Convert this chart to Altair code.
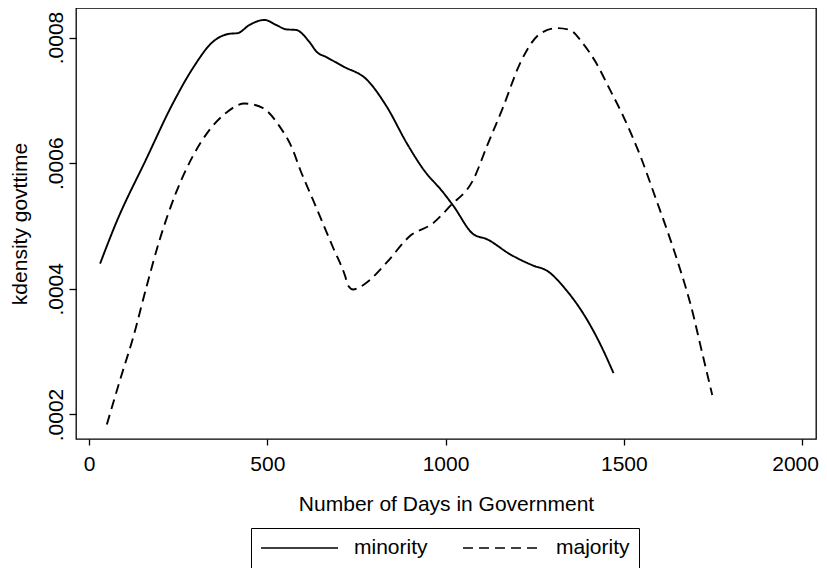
import altair as alt
import pandas as pd

# minority (solid) kernel density
min_x = [31, 76, 160, 235, 291, 347, 394, 417, 450, 492, 525, 553, 581, 618, 639, 665,
         713, 779, 835, 891, 938, 994, 1022, 1078, 1116, 1181, 1246, 1284, 1340, 1387,
         1433, 1471]
min_y = [0.000440, 0.000505, 0.000606, 0.000695, 0.000751, 0.000793, 0.000806, 0.000807,
         0.000820, 0.000828, 0.000820, 0.000813, 0.000812, 0.000793, 0.000777, 0.000769,
         0.000754, 0.000733, 0.000690, 0.000632, 0.000590, 0.000553, 0.000532, 0.000487,
         0.000479, 0.000455, 0.000437, 0.000429, 0.000397, 0.000360, 0.000313, 0.000266]

# majority (dashed) kernel density
maj_x = [50, 87, 124, 162, 197, 244, 291, 338, 384, 436, 487, 534, 571, 592, 618, 637,
         665, 685, 718, 727, 741, 760, 779, 835, 900, 966, 1013, 1078, 1116, 1162, 1209,
         1265, 1313, 1349, 1386, 1423, 1461, 1494, 1546, 1592, 1621, 1649, 1695, 1714,
         1748]
maj_y = [0.000184, 0.000255, 0.000323, 0.000405, 0.000476, 0.000553, 0.000611, 0.000653,
         0.000680, 0.000695, 0.000688, 0.000659, 0.000622, 0.000590, 0.000555, 0.000530,
         0.000492, 0.000465, 0.000421, 0.000405, 0.000399, 0.000403, 0.000410, 0.000442,
         0.000484, 0.000505, 0.000532, 0.000574, 0.000627, 0.000690, 0.000759, 0.000806,
         0.000815, 0.000812, 0.000790, 0.000759, 0.000717, 0.000680, 0.000612, 0.000540,
         0.000494, 0.000447, 0.000358, 0.000312, 0.000231]

groups = ["minority", "majority"]
x_ticks = [0, 500, 1000, 1500, 2000]
y_ticks = [0.0002, 0.0004, 0.0006, 0.0008]

rows = []
for i, (x, y) in enumerate(zip(min_x, min_y)):
    rows.append({"days": x, "density": y, "group": groups[0], "order": i})
for i, (x, y) in enumerate(zip(maj_x, maj_y)):
    rows.append({"days": x, "density": y, "group": groups[1], "order": i})
df = pd.DataFrame(rows)

FONT = "Liberation Sans"
FS = 21

chart = alt.Chart(df).mark_line(
    strokeWidth=1.9, color="black", interpolate="monotone"
).encode(
    x=alt.X(
        "days:Q",
        scale=alt.Scale(domain=[-36.5, 2039], nice=False, zero=False),
        axis=alt.Axis(
            values=x_ticks, format="d", title="Number of Days in Government",
            tickSize=6, labelPadding=8, titlePadding=19,
            labelOffset={"condition": {"test": "datum.value == 2000", "value": -7}, "value": 0},
        ),
    ),
    y=alt.Y(
        "density:Q",
        scale=alt.Scale(domain=[0.000161, 0.000847], nice=False, zero=False),
        axis=alt.Axis(
            values=y_ticks, title="kdensity govttime",
            labelExpr="substring(format(datum.value, '.4f'), 1)",
            labelAngle=270, labelAlign="center", labelBaseline="bottom",
            tickSize=7, labelPadding=3, titlePadding=15,
        ),
    ),
    strokeDash=alt.StrokeDash(
        "group:N",
        scale=alt.Scale(domain=groups, range=[[1, 0], [10, 6]]),
        legend=alt.Legend(
            title=None, orient="none", legendX=175, legendY=520,
            direction="horizontal", symbolType="stroke", symbolSize=5929,
            symbolStrokeWidth=1.5, symbolStrokeColor="black", clipHeight=22,
            labelFontSize=FS, labelFont=FONT, labelColor="black", labelOffset=15,
            columnPadding=34, padding=9, strokeColor="black", fillColor="white",
        ),
    ),
    order="order:Q",
).properties(
    width=740, height=431,
    autosize=alt.AutoSizeParams(type="none"),
    padding={"left": 68, "top": 0, "right": 3, "bottom": 129},
).configure_view(
    stroke="black", strokeWidth=1.3
).configure_axis(
    domain=False, grid=False, tickColor="black", tickWidth=1.3,
    labelFont=FONT, labelFontSize=FS, labelColor="black",
    titleFont=FONT, titleFontSize=FS, titleFontWeight="normal", titleColor="black",
)

chart.save("out.html", embed_options={"renderer": "svg", "actions": False})
